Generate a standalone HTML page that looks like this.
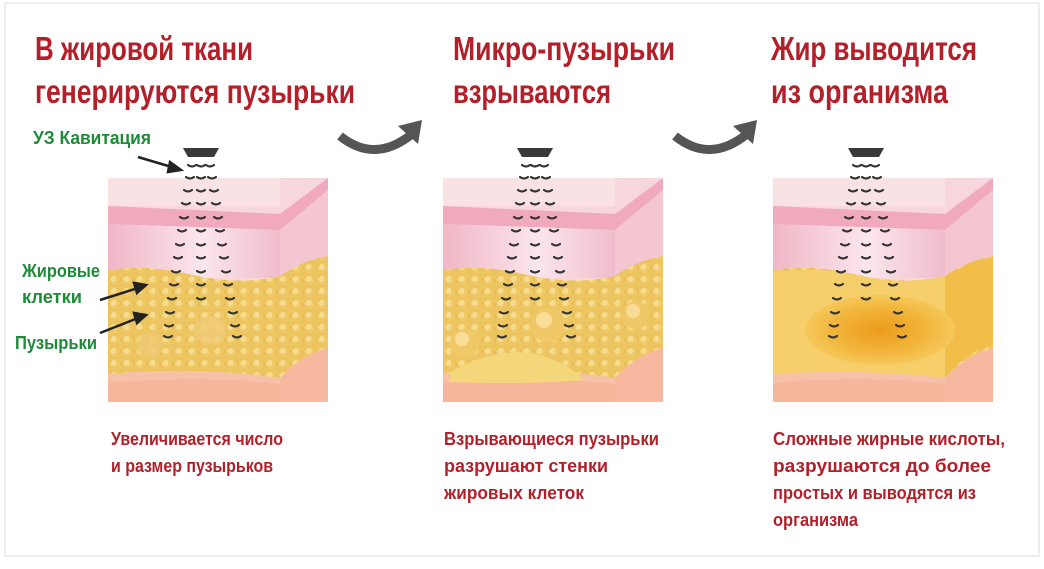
<!DOCTYPE html>
<html><head><meta charset="utf-8"><style>
html,body{margin:0;padding:0;background:#fff;width:1044px;height:569px;overflow:hidden}
svg{display:block}
.t{font-family:"Liberation Sans",sans-serif;font-weight:bold;fill:#b3202a}
.g{font-family:"Liberation Sans",sans-serif;font-weight:bold;fill:#1f8a3a}
</style></head><body>
<svg width="1044" height="569" viewBox="0 0 1044 569" xmlns="http://www.w3.org/2000/svg">
<defs>
<pattern id="fat" width="13" height="12" patternUnits="userSpaceOnUse">
<rect width="13" height="12" fill="#e3b34a"/>
<circle cx="6.5" cy="6" r="5.8" fill="#efc965"/>
<circle cx="5.5" cy="5" r="3" fill="#f6dc90"/>
<circle cx="0" cy="0" r="5" fill="#ecc460"/>
<circle cx="13" cy="0" r="5" fill="#ecc460"/>
<circle cx="0" cy="12" r="5" fill="#ecc460"/>
<circle cx="13" cy="12" r="5" fill="#ecc460"/>
</pattern>
<linearGradient id="derm" x1="0" y1="0" x2="1" y2="0">
<stop offset="0" stop-color="#f0b6c6"/><stop offset="0.55" stop-color="#fbe6ec"/><stop offset="1" stop-color="#f0bccb"/>
</linearGradient>
<radialGradient id="melt" cx="0.5" cy="0.5" r="0.5">
<stop offset="0" stop-color="#ec9a1a"/><stop offset="0.6" stop-color="#f2b43a"/><stop offset="1" stop-color="#f5c85a"/>
</radialGradient>
<g id="box">
<rect x="0" y="0" width="220" height="224" fill="#f7d6dd"/>
<rect x="0" y="0" width="172" height="28" fill="#f9e2e4"/>
<path d="M0 28 L172 36 L220 0 L220 12 L172 52 L0 46Z" fill="#f0a9bd"/>
<path d="M0 46 L172 52 L172 100 L0 100Z" fill="url(#derm)"/>
<path d="M172 52 L220 12 L220 90 L172 100Z" fill="#f3c6d2"/>
<path d="M0 92 Q40 86 80 96 Q130 108 172 98 L172 200 Q90 190 0 196Z" fill="url(#fat)"/>
<path d="M172 98 Q195 82 220 78 L220 170 Q195 176 172 200Z" fill="url(#fat)"/>
<path d="M0 196 Q90 188 172 200 L172 224 L0 224Z" fill="#f7c1a8"/>
<path d="M0 205 Q90 197 172 206 L172 224 L0 224Z" fill="#f5b69c"/>
<path d="M172 200 Q195 176 220 170 L220 224 L172 224Z" fill="#f6b9a0"/>
</g>
<g id="waves" fill="none" stroke="#333" stroke-width="2.2" stroke-linecap="round">
<path d="M-13 5 q4 3 8 0 M-4 5 q4 3 8 0 M5 5 q4 3 8 0"/>
<path d="M-15 17 q4 3 8 0 M-4 17 q4 3 8 0 M7 17 q4 3 8 0"/>
<path d="M-17 30 q4 3 8 0 M-4 30 q4 3 8 0 M9 30 q4 3 8 0"/>
<path d="M-19 43 q4 3 8 0 M-4 43 q4 3 8 0 M11 43 q4 3 8 0"/>
<path d="M-21 57 q4 3 8 0 M-4 57 q4 3 8 0 M13 57 q4 3 8 0"/>
<path d="M-23 70 q4 3 8 0 M-4 70 q4 3 8 0 M15 70 q4 3 8 0"/>
<path d="M-25 84 q4 3 8 0 M-4 84 q4 3 8 0 M17 84 q4 3 8 0"/>
<path d="M-27 97 q4 3 8 0 M-4 97 q4 3 8 0 M19 97 q4 3 8 0"/>
<path d="M-29 111 q4 3 8 0 M-4 111 q4 3 8 0 M21 111 q4 3 8 0"/>
<path d="M-31 124 q4 3 8 0 M-4 124 q4 3 8 0 M23 124 q4 3 8 0"/>
<path d="M-33 138 q4 3 8 0 M-4 138 q4 3 8 0 M25 138 q4 3 8 0"/>
<path d="M-35 152 q4 3 8 0 M28 152 q4 3 8 0"/>
<path d="M-36 165 q4 3 8 0 M30 165 q4 3 8 0"/>
<path d="M-37 176 q4 3 8 0 M32 176 q4 3 8 0"/>
</g>
<g id="probe"><path d="M-18 0 L18 0 L13 9 L-13 9Z" fill="#3a3a3a"/></g>
<g id="arr"><path d="M0 12 Q35 40 72 10" fill="none" stroke="#555" stroke-width="9"/><path d="M58 2 L82 -4 L78 20Z" fill="#555"/></g>
</defs>
<rect x="5" y="3" width="1034" height="553" fill="none" stroke="#ddd" stroke-width="1"/>

<text class="t" x="35" y="60" font-size="33" textLength="218" lengthAdjust="spacingAndGlyphs">В жировой ткани</text>
<text class="t" x="35" y="103" font-size="33" textLength="320" lengthAdjust="spacingAndGlyphs">генерируются пузырьки</text>
<text class="t" x="453" y="60" font-size="33" textLength="222" lengthAdjust="spacingAndGlyphs">Микро-пузырьки</text>
<text class="t" x="453" y="103" font-size="33" textLength="158" lengthAdjust="spacingAndGlyphs">взрываются</text>
<text class="t" x="771" y="60" font-size="33" textLength="206" lengthAdjust="spacingAndGlyphs">Жир выводится</text>
<text class="t" x="771" y="103" font-size="33" textLength="177" lengthAdjust="spacingAndGlyphs">из организма</text>

<use href="#arr" x="340" y="124"/>
<use href="#arr" x="675" y="124"/>

<use href="#box" x="108" y="178"/>
<ellipse cx="150" cy="345" rx="14" ry="12" fill="#efc972" opacity="0.8"/>
<ellipse cx="210" cy="330" rx="16" ry="14" fill="#f0cc78" opacity="0.8"/>
<use href="#probe" x="201" y="148"/>
<use href="#waves" x="201" y="160"/>

<use href="#box" x="443" y="178"/>
<circle cx="465" cy="343" r="14" fill="#f0c868"/><circle cx="462" cy="339" r="7" fill="#f8dc98"/>
<circle cx="548" cy="325" r="17" fill="#f0c868"/><circle cx="544" cy="320" r="8" fill="#f8dc98"/>
<circle cx="636" cy="315" r="14" fill="#f0c868"/><circle cx="633" cy="311" r="7" fill="#f8dc98"/>
<path d="M450 372 Q500 345 540 355 Q570 365 585 380 Q520 385 450 382Z" fill="#f3d77a"/>
<use href="#probe" x="535" y="148"/>
<use href="#waves" x="535" y="160"/>

<use href="#box" x="773" y="178"/>
<path d="M773 272 Q830 266 870 278 Q910 285 945 276 L945 378 Q860 368 773 374Z" fill="#f6cf6a"/>
<path d="M945 276 Q968 262 993 258 L993 345 Q968 350 945 378Z" fill="#f2bd48"/>
<ellipse cx="880" cy="330" rx="75" ry="35" fill="url(#melt)"/>
<use href="#probe" x="866" y="148"/>
<use href="#waves" x="866" y="160"/>

<text class="g" x="33" y="144" font-size="18" textLength="118" lengthAdjust="spacingAndGlyphs">УЗ Кавитация</text>
<text class="g" x="22" y="277" font-size="18" textLength="78" lengthAdjust="spacingAndGlyphs">Жировые</text>
<text class="g" x="22" y="303" font-size="18" textLength="60" lengthAdjust="spacingAndGlyphs">клетки</text>
<text class="g" x="15" y="349" font-size="18" textLength="82" lengthAdjust="spacingAndGlyphs">Пузырьки</text>
<g stroke="#222" stroke-width="2.5" fill="#222">
<line x1="138" y1="157" x2="175" y2="168"/><path d="M181 170 L170 162 L168 172Z"/>
<line x1="100" y1="300" x2="138" y2="288"/><path d="M146 285 L134 283 L137 293Z"/>
<line x1="100" y1="333" x2="138" y2="318"/><path d="M146 315 L134 313 L137 323Z"/>
</g>

<g font-size="18">
<text class="t" x="111" y="445" textLength="172" lengthAdjust="spacingAndGlyphs">Увеличивается число</text>
<text class="t" x="111" y="472" textLength="162" lengthAdjust="spacingAndGlyphs">и размер пузырьков</text>
<text class="t" x="444" y="445" textLength="215" lengthAdjust="spacingAndGlyphs">Взрывающиеся пузырьки</text>
<text class="t" x="444" y="472" textLength="164" lengthAdjust="spacingAndGlyphs">разрушают стенки</text>
<text class="t" x="444" y="499" textLength="140" lengthAdjust="spacingAndGlyphs">жировых клеток</text>
<text class="t" x="773" y="445" textLength="232" lengthAdjust="spacingAndGlyphs">Сложные жирные кислоты,</text>
<text class="t" x="773" y="472" textLength="218" lengthAdjust="spacingAndGlyphs">разрушаются до более</text>
<text class="t" x="773" y="499" textLength="203" lengthAdjust="spacingAndGlyphs">простых и выводятся из</text>
<text class="t" x="773" y="526" textLength="85" lengthAdjust="spacingAndGlyphs">организма</text>
</g>
</svg>
</body></html>
